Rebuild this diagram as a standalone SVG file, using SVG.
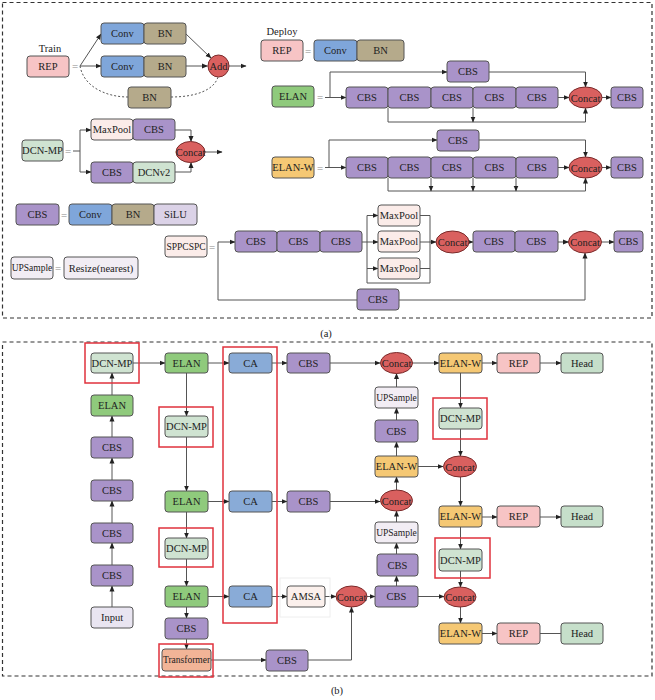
<svg xmlns="http://www.w3.org/2000/svg" width="655" height="700" viewBox="0 0 655 700">
<style>
text{font-family:"Liberation Serif","Times New Roman",serif;font-size:10.5px;fill:#222;text-anchor:middle;dominant-baseline:central}
.s{font-size:9.5px}
.eq{fill:#888;font-size:11px}
rect,ellipse{stroke:#555;stroke-width:1}
.cbs{fill:#a993c9}.conv{fill:#7fa6da}.bn{fill:#b5aa8b}.silu{fill:#dbd2e7}
.rep{fill:#f7c4c5}.elan{fill:#8fca7c}.elanw{fill:#f5c874}.cat{fill:#d9605f;stroke:#7a2a2a}
.dcn{fill:#cfe3d1}.head{fill:#c6dfca}.mp{fill:#fbece9}.rs{fill:#f2edf4}.ca{fill:#89abd7}
.tr{fill:#f2b497}.inp{fill:#e9e5f1}.amsa{fill:#fbf0ec}
.red{fill:none;stroke:#e0323c;stroke-width:1.5}
.dash{fill:none;stroke:#333;stroke-width:1.2;stroke-dasharray:4 3}
.c path{fill:none;stroke:#555;stroke-width:1}
.c .ar{marker-end:url(#a)}
.c .dt{stroke-dasharray:2 2}
</style>
<defs>
<marker id="a" markerWidth="6" markerHeight="6" refX="5.5" refY="3" orient="auto" markerUnits="userSpaceOnUse"><path d="M0,0.5 L6,3 L0,5.5 z" fill="#222"/></marker>
</defs>

<rect class="dash" x="2.5" y="2.5" width="649.5" height="315.5"/>
<rect class="dash" x="2.5" y="342" width="649.5" height="334"/>
<text x="326" y="333">(a)</text>
<text x="337" y="690">(b)</text>

<!-- ===== connectors ===== -->
<g id="connectors" class="c">
<!-- REP train -->
<path class="ar" d="M80,66 L101,34"/>
<path class="ar" d="M80,66 L101,66"/>
<path class="dt" d="M80,66 C84,88 108,97 128,97"/>
<path class="dt" d="M171,97 C196,97 214,90 218,77"/>
<path class="ar" d="M186,34 L211,58"/>
<path class="ar" d="M186,66 L207.5,66"/>
<path class="ar" d="M229,66 L246,66"/>
<!-- DCN-MP def -->
<path d="M73,151 L80,151 M80,130 L80,172"/>
<path class="ar" d="M80,130 L91,130"/>
<path class="ar" d="M80,172 L91,172"/>
<path class="ar" d="M175,130 L191,130 L191,141.5"/>
<path class="ar" d="M175,172 L191,172 L191,162.5"/>
<path class="ar" d="M205,152 L222,152"/>
<!-- ELAN def -->
<path class="ar" d="M325,97.5 L346,97.5"/>
<path class="ar" d="M330,97.5 L330,72 L447,72"/>
<path class="ar" d="M489,72 L585.5,72 L585.5,87"/>
<path class="ar" d="M558,97.5 L569,97.5"/>
<path class="ar" d="M602,97.5 L611,97.5"/>
<path class="ar" d="M388,108 L388,122 L585.5,122 L585.5,108"/>
<path class="ar" d="M473,108 L473,122"/>
<!-- ELAN-W def -->
<path class="ar" d="M325,167.5 L346,167.5"/>
<path class="ar" d="M329,167.5 L329,140 L437,140"/>
<path class="ar" d="M479,140 L585.5,140 L585.5,157"/>
<path class="ar" d="M558,167.5 L569,167.5"/>
<path class="ar" d="M602,167.5 L611,167.5"/>
<path class="ar" d="M388,178 L388,191 L585.5,191 L585.5,178"/>
<path class="ar" d="M431,178 L431,191"/>
<path class="ar" d="M473,178 L473,191"/>
<path class="ar" d="M516,178 L516,191"/>
<!-- SPPCSPC def -->
<path class="ar" d="M218,242 L235,242"/>
<path d="M218,242 L218,300 L357,300"/>
<path class="ar" d="M399,300 L585,300 L585,253"/>
<path d="M362,242 L367,242 M367,215.5 L367,283 L430,283 L430,215.5 M420,215.5 L430,215.5 M420,268.5 L430,268.5"/>
<path class="ar" d="M367,215.5 L378,215.5"/>
<path class="ar" d="M367,242 L378,242"/>
<path class="ar" d="M367,268.5 L378,268.5"/>
<path class="ar" d="M420,242 L436,242"/>
<path class="ar" d="M469,242 L473,242"/>
<path class="ar" d="M558,242 L568.5,242"/>
<path class="ar" d="M601.5,242 L614,242"/>

<!-- (b) backbone -->
<path class="ar" d="M112,607 L112,586"/>
<path class="ar" d="M112,565 L112,543"/>
<path class="ar" d="M112,523 L112,501"/>
<path class="ar" d="M112,480 L112,458"/>
<path class="ar" d="M112,437 L112,416"/>
<path class="ar" d="M112,395 L112,373"/>
<path class="ar" d="M133,363 L165,363"/>
<path class="ar" d="M186.5,373 L186.5,416"/>
<path class="ar" d="M186.5,437 L186.5,491"/>
<path class="ar" d="M186.5,512 L186.5,538"/>
<path class="ar" d="M186.5,559 L186.5,586"/>
<path class="ar" d="M186.5,607 L186.5,618"/>
<path class="ar" d="M186.5,639 L186.5,649"/>
<!-- row 1 -->
<path class="ar" d="M208,363 L229,363"/>
<path class="ar" d="M272,363 L287,363"/>
<path class="ar" d="M330,363 L380,363"/>
<path class="ar" d="M412,363 L439,363"/>
<path class="ar" d="M482,363 L497,363"/>
<path class="ar" d="M540,363 L561,363"/>
<!-- row 2 -->
<path class="ar" d="M208,501.5 L229,501.5"/>
<path class="ar" d="M272,501.5 L287,501.5"/>
<path class="ar" d="M330,501.5 L380,501.5"/>
<!-- row 3 -->
<path class="ar" d="M208,596.5 L229,596.5"/>
<path class="ar" d="M272,596.5 L287,596.5"/>
<path class="ar" d="M325,596.5 L336,596.5"/>
<path class="ar" d="M367,596.5 L375,596.5"/>
<path class="ar" d="M418,596.5 L444,596.5"/>
<!-- transformer path -->
<path class="ar" d="M211,660 L266,660"/>
<path class="ar" d="M308,660 L351.5,660 L351.5,607"/>
<!-- neck column -->
<path class="ar" d="M396.5,586 L396.5,576"/>
<path class="ar" d="M396.5,554 L396.5,543"/>
<path class="ar" d="M396.5,522 L396.5,511"/>
<path class="ar" d="M396.5,490 L396.5,477"/>
<path class="ar" d="M396.5,456 L396.5,442"/>
<path class="ar" d="M396.5,420 L396.5,408"/>
<path class="ar" d="M396.5,387 L396.5,373.5"/>
<path class="ar" d="M418,466.5 L443,466.5"/>
<!-- head column -->
<path class="ar" d="M460.5,373 L460.5,408"/>
<path class="ar" d="M460.5,429 L460.5,456"/>
<path class="ar" d="M460.5,477 L460.5,506"/>
<path class="ar" d="M482,517 L497,517"/>
<path class="ar" d="M540,517 L561,517"/>
<path class="ar" d="M460.5,527 L460.5,549"/>
<path class="ar" d="M460.5,571 L460.5,587"/>
<path class="ar" d="M460.5,607 L460.5,623"/>
<path class="ar" d="M482,633.5 L497,633.5"/>
<path d="M540,633.5 L561,633.5"/>
</g>

<!-- ===== (a) nodes ===== -->
<text x="50" y="48">Train</text>
<g id="rep-train"><rect class="rep" x="27" y="56" width="42" height="21" rx="3"/><text x="48" y="66.5">REP</text></g>
<text class="eq" x="75" y="66">=</text>
<g id="conv-t1"><rect class="conv" x="101" y="23" width="43" height="21" rx="3"/><text x="122.5" y="33.5">Conv</text></g>
<g id="bn-t1"><rect class="bn" x="144" y="23" width="42" height="21" rx="3"/><text x="165" y="33.5">BN</text></g>
<g id="conv-t2"><rect class="conv" x="101" y="56" width="43" height="21" rx="3"/><text x="122.5" y="66.5">Conv</text></g>
<g id="bn-t2"><rect class="bn" x="144" y="56" width="42" height="21" rx="3"/><text x="165" y="66.5">BN</text></g>
<g id="bn-t3"><rect class="bn" x="128" y="87" width="43" height="21" rx="3"/><text x="149.5" y="97.5">BN</text></g>
<g id="add"><ellipse class="cat" cx="218.5" cy="66" rx="10.5" ry="11"/><text x="218.5" y="66.5">Add</text></g>

<g id="dcnmp-def"><rect class="dcn" x="22" y="140" width="41" height="21" rx="3"/><text x="42.5" y="150.5">DCN-MP</text></g>
<text class="eq" x="68" y="151">=</text>
<g id="mp-d"><rect class="mp" x="91" y="119" width="42" height="21" rx="3"/><text x="112" y="129.5">MaxPool</text></g>
<g id="cbs-d1"><rect class="cbs" x="133" y="119" width="42" height="21" rx="3"/><text x="154" y="129.5">CBS</text></g>
<g id="cbs-d2"><rect class="cbs" x="91" y="162" width="42" height="21" rx="3"/><text x="112" y="172.5">CBS</text></g>
<g id="dcnv2"><rect class="dcn" x="133" y="162" width="42" height="21" rx="3"/><text x="154" y="172.5">DCNv2</text></g>
<g id="concat-d"><ellipse class="cat" cx="190.5" cy="152" rx="14.5" ry="10.5"/><text x="190.5" y="152.5">Concat</text></g>

<text x="282" y="31">Deploy</text>
<g id="rep-dep"><rect class="rep" x="261" y="40" width="42" height="21" rx="3"/><text x="282" y="50.5">REP</text></g>
<text class="eq" x="308" y="51">=</text>
<g id="conv-dep"><rect class="conv" x="314" y="40" width="43" height="21" rx="3"/><text x="335.5" y="50.5">Conv</text></g>
<g id="bn-dep"><rect class="bn" x="357" y="40" width="47" height="21" rx="3"/><text x="380.5" y="50.5">BN</text></g>

<g id="elan-def"><rect class="elan" x="272" y="86" width="42" height="21" rx="3"/><text x="293" y="96.5">ELAN</text></g>
<text class="eq" x="320" y="97">=</text>
<g id="e-top"><rect class="cbs" x="447" y="61" width="42" height="21" rx="3"/><text x="468" y="71.5">CBS</text></g>
<g id="e1"><rect class="cbs" x="346" y="87" width="42" height="21" rx="3"/><text x="367" y="97.5">CBS</text></g>
<g id="e2"><rect class="cbs" x="388" y="87" width="43" height="21" rx="3"/><text x="409.5" y="97.5">CBS</text></g>
<g id="e3"><rect class="cbs" x="431" y="87" width="42" height="21" rx="3"/><text x="452" y="97.5">CBS</text></g>
<g id="e4"><rect class="cbs" x="473" y="87" width="43" height="21" rx="3"/><text x="494.5" y="97.5">CBS</text></g>
<g id="e5"><rect class="cbs" x="516" y="87" width="42" height="21" rx="3"/><text x="537" y="97.5">CBS</text></g>
<g id="e-cat"><ellipse class="cat" cx="585.5" cy="97.5" rx="16.5" ry="10.5"/><text x="585.5" y="98">Concat</text></g>
<g id="e-out"><rect class="cbs" x="611" y="87" width="32" height="21" rx="3"/><text x="627" y="97.5">CBS</text></g>

<g id="elanw-def"><rect class="elanw" x="272" y="157" width="42" height="21" rx="3"/><text x="293" y="167.5">ELAN-W</text></g>
<text class="eq" x="320" y="168">=</text>
<g id="w-top"><rect class="cbs" x="437" y="130" width="42" height="21" rx="3"/><text x="458" y="140.5">CBS</text></g>
<g id="w1"><rect class="cbs" x="346" y="157" width="42" height="21" rx="3"/><text x="367" y="167.5">CBS</text></g>
<g id="w2"><rect class="cbs" x="388" y="157" width="43" height="21" rx="3"/><text x="409.5" y="167.5">CBS</text></g>
<g id="w3"><rect class="cbs" x="431" y="157" width="42" height="21" rx="3"/><text x="452" y="167.5">CBS</text></g>
<g id="w4"><rect class="cbs" x="473" y="157" width="43" height="21" rx="3"/><text x="494.5" y="167.5">CBS</text></g>
<g id="w5"><rect class="cbs" x="516" y="157" width="42" height="21" rx="3"/><text x="537" y="167.5">CBS</text></g>
<g id="w-cat"><ellipse class="cat" cx="585.5" cy="167.5" rx="16.5" ry="10.5"/><text x="585.5" y="168">Concat</text></g>
<g id="w-out"><rect class="cbs" x="611" y="157" width="32" height="21" rx="3"/><text x="627" y="167.5">CBS</text></g>

<g id="cbs-def"><rect class="cbs" x="16" y="204" width="43" height="21" rx="3"/><text x="37.5" y="214.5">CBS</text></g>
<text class="eq" x="64" y="215">=</text>
<g id="conv-c"><rect class="conv" x="69" y="204" width="43" height="21" rx="3"/><text x="90.5" y="214.5">Conv</text></g>
<g id="bn-c"><rect class="bn" x="112" y="204" width="42" height="21" rx="3"/><text x="133" y="214.5">BN</text></g>
<g id="silu"><rect class="silu" x="154" y="204" width="43" height="21" rx="3"/><text x="175.5" y="214.5">SiLU</text></g>

<g id="ups-def"><rect class="rs" x="11" y="257" width="42" height="22" rx="3"/><text class="s" x="32" y="268">UPSample</text></g>
<text class="eq" x="58" y="268">=</text>
<g id="resize"><rect class="rs" x="64" y="257" width="74" height="22" rx="3"/><text x="101" y="268">Resize(nearest)</text></g>

<g id="spp-def"><rect class="mp" x="165" y="236" width="42" height="21" rx="3"/><text class="s" x="186" y="246.5">SPPCSPC</text></g>
<text class="eq" x="212" y="247">=</text>
<g id="s1"><rect class="cbs" x="235" y="231" width="42" height="21" rx="3"/><text x="256" y="241.5">CBS</text></g>
<g id="s2"><rect class="cbs" x="277" y="231" width="43" height="21" rx="3"/><text x="298.5" y="241.5">CBS</text></g>
<g id="s3"><rect class="cbs" x="320" y="231" width="42" height="21" rx="3"/><text x="341" y="241.5">CBS</text></g>
<g id="mp1"><rect class="mp" x="378" y="205" width="42" height="21" rx="3"/><text x="399" y="215.5">MaxPool</text></g>
<g id="mp2"><rect class="mp" x="378" y="231" width="42" height="21" rx="3"/><text x="399" y="241.5">MaxPool</text></g>
<g id="mp3"><rect class="mp" x="378" y="258" width="42" height="21" rx="3"/><text x="399" y="268.5">MaxPool</text></g>
<g id="s-cat1"><ellipse class="cat" cx="452.5" cy="242" rx="16.5" ry="11"/><text x="452.5" y="242.5">Concat</text></g>
<g id="s4"><rect class="cbs" x="473" y="231" width="42" height="21" rx="3"/><text x="494" y="241.5">CBS</text></g>
<g id="s5"><rect class="cbs" x="515" y="231" width="43" height="21" rx="3"/><text x="536.5" y="241.5">CBS</text></g>
<g id="s-cat2"><ellipse class="cat" cx="585" cy="242" rx="16.5" ry="11"/><text x="585" y="242.5">Concat</text></g>
<g id="s-out"><rect class="cbs" x="614" y="231" width="29" height="21" rx="3"/><text x="628.5" y="241.5">CBS</text></g>
<g id="s-bot"><rect class="cbs" x="357" y="289" width="42" height="21" rx="3"/><text x="378" y="299.5">CBS</text></g>

<!-- ===== (b) nodes ===== -->
<rect class="red" x="85" y="343" width="54" height="40"/>
<rect class="red" x="159" y="407" width="54" height="40"/>
<rect class="red" x="159" y="528" width="54" height="39"/>
<rect class="red" x="159" y="644" width="54" height="33"/>
<rect class="red" x="223" y="347" width="54" height="276"/>
<rect class="red" x="433" y="398" width="54" height="41"/>
<rect class="red" x="435" y="538" width="55" height="40"/>
<rect x="280" y="578" width="50" height="39" style="fill:none;stroke:#eee"/>

<g id="b-dcnmp1"><rect class="dcn" x="91" y="353" width="42" height="20" rx="3"/><text x="112" y="363.5">DCN-MP</text></g>
<g id="b-elan0"><rect class="elan" x="91" y="395" width="42" height="21" rx="3"/><text x="112" y="405.5">ELAN</text></g>
<g id="b-cbs4"><rect class="cbs" x="91" y="437" width="42" height="21" rx="3"/><text x="112" y="447.5">CBS</text></g>
<g id="b-cbs3"><rect class="cbs" x="91" y="480" width="42" height="21" rx="3"/><text x="112" y="490.5">CBS</text></g>
<g id="b-cbs2"><rect class="cbs" x="91" y="523" width="42" height="20" rx="3"/><text x="112" y="533.5">CBS</text></g>
<g id="b-cbs1"><rect class="cbs" x="91" y="565" width="42" height="21" rx="3"/><text x="112" y="575.5">CBS</text></g>
<g id="b-input"><rect class="inp" x="91" y="607" width="42" height="21" rx="3"/><text x="112" y="617.5">Input</text></g>

<g id="b-elan1"><rect class="elan" x="165" y="353" width="43" height="20" rx="3"/><text x="186.5" y="363.5">ELAN</text></g>
<g id="b-dcnmp2"><rect class="dcn" x="165" y="416" width="43" height="21" rx="3"/><text x="186.5" y="426.5">DCN-MP</text></g>
<g id="b-elan2"><rect class="elan" x="165" y="491" width="43" height="21" rx="3"/><text x="186.5" y="501.5">ELAN</text></g>
<g id="b-dcnmp3"><rect class="dcn" x="165" y="538" width="43" height="21" rx="3"/><text x="186.5" y="548.5">DCN-MP</text></g>
<g id="b-elan3"><rect class="elan" x="165" y="586" width="43" height="21" rx="3"/><text x="186.5" y="596.5">ELAN</text></g>
<g id="b-cbs5"><rect class="cbs" x="165" y="618" width="43" height="21" rx="3"/><text x="186.5" y="628.5">CBS</text></g>
<g id="b-transformer"><rect class="tr" x="162" y="649" width="49" height="22" rx="3"/><text class="s" x="186.5" y="660">Transformer</text></g>

<g id="b-ca1"><rect class="ca" x="229" y="353" width="43" height="20" rx="3"/><text x="250.5" y="363.5">CA</text></g>
<g id="b-ca2"><rect class="ca" x="229" y="491" width="43" height="21" rx="3"/><text x="250.5" y="501.5">CA</text></g>
<g id="b-ca3"><rect class="ca" x="229" y="586" width="43" height="21" rx="3"/><text x="250.5" y="596.5">CA</text></g>

<g id="b-cbs6"><rect class="cbs" x="287" y="353" width="43" height="20" rx="3"/><text x="308.5" y="363.5">CBS</text></g>
<g id="b-cbs7"><rect class="cbs" x="287" y="491" width="43" height="21" rx="3"/><text x="308.5" y="501.5">CBS</text></g>
<g id="b-amsa"><rect class="amsa" x="287" y="586" width="38" height="21" rx="3"/><text x="306" y="596.5">AMSA</text></g>
<g id="b-cbs8"><rect class="cbs" x="266" y="650" width="42" height="21" rx="3"/><text x="287" y="660.5">CBS</text></g>

<g id="b-concat1"><ellipse class="cat" cx="396.5" cy="363" rx="16" ry="10.5"/><text x="396.5" y="363.5">Concat</text></g>
<g id="b-ups1"><rect class="rs" x="375" y="387" width="43" height="21" rx="3"/><text class="s" x="396.5" y="397.5">UPSample</text></g>
<g id="b-cbs9"><rect class="cbs" x="375" y="420" width="43" height="22" rx="3"/><text x="396.5" y="431">CBS</text></g>
<g id="b-elanw1"><rect class="elanw" x="375" y="456" width="43" height="21" rx="3"/><text x="396.5" y="466.5">ELAN-W</text></g>
<g id="b-concat2"><ellipse class="cat" cx="396.5" cy="500.5" rx="16" ry="10.5"/><text x="396.5" y="501">Concat</text></g>
<g id="b-ups2"><rect class="rs" x="375" y="522" width="43" height="21" rx="3"/><text class="s" x="396.5" y="532.5">UPSample</text></g>
<g id="b-cbs10"><rect class="cbs" x="377" y="554" width="41" height="22" rx="3"/><text x="397.5" y="565">CBS</text></g>
<g id="b-cbs11"><rect class="cbs" x="375" y="586" width="43" height="21" rx="3"/><text x="396.5" y="596.5">CBS</text></g>
<g id="b-concat3"><ellipse class="cat" cx="351.5" cy="596.5" rx="15.5" ry="10.5"/><text x="351.5" y="597">Concat</text></g>

<g id="b-elanw2"><rect class="elanw" x="439" y="353" width="43" height="20" rx="3"/><text x="460.5" y="363.5">ELAN-W</text></g>
<g id="b-rep1"><rect class="rep" x="497" y="353" width="43" height="20" rx="3"/><text x="518.5" y="363.5">REP</text></g>
<g id="b-head1"><rect class="head" x="561" y="353" width="42" height="20" rx="3"/><text x="582" y="363.5">Head</text></g>
<g id="b-dcnmp4"><rect class="dcn" x="439" y="408" width="43" height="21" rx="3"/><text x="460.5" y="418.5">DCN-MP</text></g>
<g id="b-concat4"><ellipse class="cat" cx="460" cy="466.5" rx="16.5" ry="10.5"/><text x="460" y="467">Concat</text></g>
<g id="b-elanw3"><rect class="elanw" x="439" y="506" width="43" height="21" rx="3"/><text x="460.5" y="516.5">ELAN-W</text></g>
<g id="b-rep2"><rect class="rep" x="497" y="506" width="43" height="21" rx="3"/><text x="518.5" y="516.5">REP</text></g>
<g id="b-head2"><rect class="head" x="561" y="506" width="42" height="21" rx="3"/><text x="582" y="516.5">Head</text></g>
<g id="b-dcnmp5"><rect class="dcn" x="439" y="549" width="43" height="22" rx="3"/><text x="460.5" y="560">DCN-MP</text></g>
<g id="b-concat5"><ellipse class="cat" cx="460" cy="597" rx="16" ry="10"/><text x="460" y="597.5">Concat</text></g>
<g id="b-elanw4"><rect class="elanw" x="439" y="623" width="43" height="21" rx="3"/><text x="460.5" y="633.5">ELAN-W</text></g>
<g id="b-rep3"><rect class="rep" x="497" y="623" width="43" height="21" rx="3"/><text x="518.5" y="633.5">REP</text></g>
<g id="b-head3"><rect class="head" x="561" y="623" width="42" height="21" rx="3"/><text x="582" y="633.5">Head</text></g>
</svg>
